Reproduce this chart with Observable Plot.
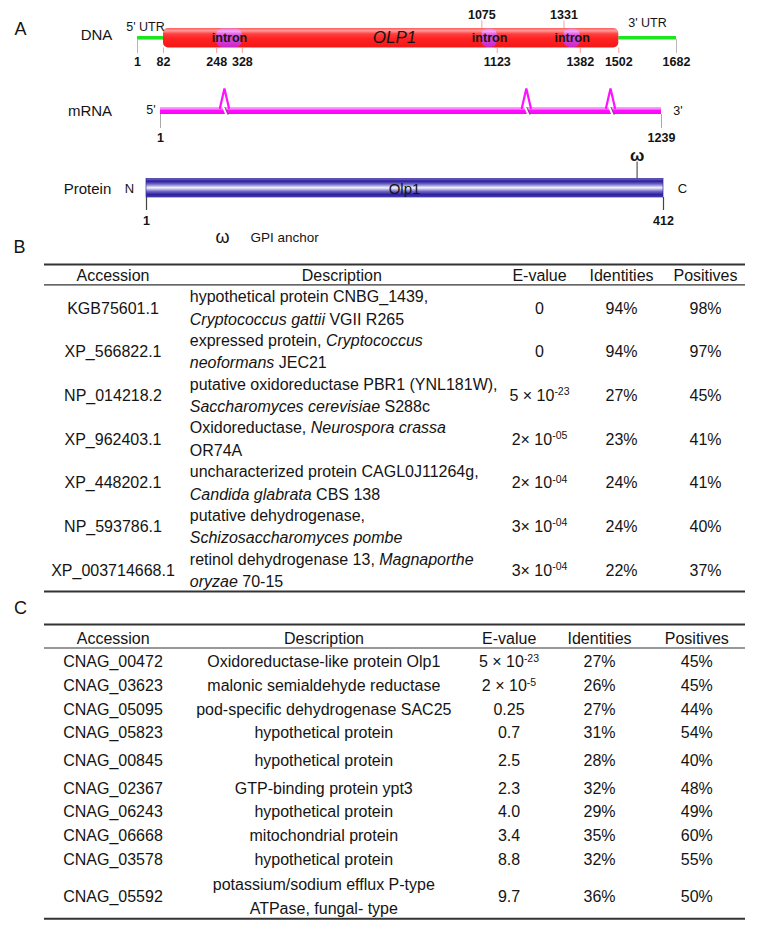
<!DOCTYPE html>
<html>
<head>
<meta charset="utf-8">
<script src="https://cdn.jsdelivr.net/npm/d3@7"></script>
<script src="https://cdn.jsdelivr.net/npm/@observablehq/plot@0.6"></script>
<style>
  html, body { margin: 0; padding: 0; background: #fff; overflow: hidden; }
  svg { display: block; }
</style>
</head>
<body>
<div id="chart"></div>
<script>
// ---------------- DATA ----------------
const panelLabels = ["A", "B", "C"];
const trackLabels = ["DNA", "mRNA", "Protein"];
const geneName = "OLP1";
const proteinName = "Olp1";

const dnaLength = 1682;
const utr5 = [1, 82];
const cdsSpan = [82, 1502];
const utr3 = [1502, 1682];
const introns = [[248, 328], [1075, 1123], [1331, 1382]];
const dnaTicksBelow = [1, 82, 248, 328, 1123, 1382, 1502, 1682];
const dnaTicksAbove = [1075, 1331];
const utrLabels = ["5' UTR", "3' UTR"];

const mrnaLength = 1239;
const mrnaJunctions = [159, 905, 1113];
const mrnaEnds = ["5'", "3'"];

const proteinLength = 412;
const gpiSite = 391;
const proteinEnds = ["N", "C"];
const gpiSymbol = "ω";
const gpiLegend = "GPI anchor";

const tableHeaders = ["Accession", "Description", "E-value", "Identities", "Positives"];

const bAccession = ["KGB75601.1", "XP_566822.1", "NP_014218.2", "XP_962403.1", "XP_448202.1", "NP_593786.1", "XP_003714668.1"];
const bDescLine1 = [
  "hypothetical protein CNBG_1439,",
  "expressed protein, *Cryptococcus*",
  "putative oxidoreductase PBR1 (YNL181W),",
  "Oxidoreductase, *Neurospora crassa*",
  "uncharacterized protein CAGL0J11264g,",
  "putative dehydrogenase,",
  "retinol dehydrogenase 13, *Magnaporthe*"
];
const bDescLine2 = [
  "*Cryptococcus gattii* VGII R265",
  "*neoformans* JEC21",
  "*Saccharomyces cerevisiae* S288c",
  "OR74A",
  "*Candida glabrata* CBS 138",
  "*Schizosaccharomyces pombe*",
  "*oryzae* 70-15"
];
const bEvalue = ["0", "0", "5 × 10^-23", "2× 10^-05", "2× 10^-04", "3× 10^-04", "3× 10^-04"];
const bIdentities = ["94%", "94%", "27%", "23%", "24%", "24%", "22%"];
const bPositives = ["98%", "97%", "45%", "41%", "41%", "40%", "37%"];

const cAccession = ["CNAG_00472", "CNAG_03623", "CNAG_05095", "CNAG_05823", "CNAG_00845", "CNAG_02367", "CNAG_06243", "CNAG_06668", "CNAG_03578", "CNAG_05592"];
const cDescription = [
  "Oxidoreductase-like protein Olp1",
  "malonic semialdehyde reductase",
  "pod-specific dehydrogenase SAC25",
  "hypothetical protein",
  "hypothetical protein",
  "GTP-binding protein ypt3",
  "hypothetical protein",
  "mitochondrial protein",
  "hypothetical protein",
  "potassium/sodium efflux P-type\nATPase, fungal- type"
];
const cEvalue = ["5 × 10^-23", "2 × 10^-5", "0.25", "0.7", "2.5", "2.3", "4.0", "3.4", "8.8", "9.7"];
const cIdentities = ["27%", "26%", "27%", "31%", "28%", "32%", "29%", "35%", "32%", "36%"];
const cPositives = ["45%", "45%", "44%", "54%", "40%", "48%", "49%", "60%", "55%", "50%"];

// ---------------- LAYOUT ----------------
const W = 764, H = 927;
const ink = "#141414";
const FONT = "'Liberation Sans', Arial, Helvetica, sans-serif";
const LAY = {
  panels: [[20, 29], [19, 246.5], [20, 608]],
  trackLabelX: [96, 89.5, 87], trackLabelY: [35, 111, 188.5],
  dna: {x0: 137, x1: 676, y: 37.3, top: 28, bot: 47.5, tickBot: 53, tickTop: 20.5, labBelow: 61.5, labAbove: 14.5,
        utrLabel: [[145, 26.7], [647, 22]], gene: [394, 37.5]},
  mrna: {x0: 160, x1: 661, top: 107, bot: 114, spikeTop: 88, spikeHalf: 4.5, tickBot: 128, lab: 137,
         ends: [[150.5, 109], [677.5, 110.5]]},
  prot: {x0: 146, x1: 663, top: 178.5, bot: 197, tickBot: 210, lab: 220, omegaY: 155, omegaLine: 161.5,
         ends: [[129, 188.5], [682, 188.5]], name: [404, 188.5], legend: [222, 237, 250]},
  tableX: [44, 745],
  B: {top: 264, head: 275, headRule: 284.3, row0: 296.7, step: 43.7, line: 22.4, bottom: 591,
      cols: [112.5, 189.3, 539, 621, 705], headCols: [112.5, 341.3, 539, 621, 705]},
  C: {top: 624, head: 638.5, headRule: 647.5, row0: 661.7, steps: [24, 23.6, 23.4, 28, 27.6, 23.4, 23.3, 24.3, 37], line: 24, bottom: 918.3,
      cols: [112.5, 323.3, 508.5, 599, 696.3], headCols: [112.7, 323.5, 508.7, 599, 696.3]}
};

const xd = d3.scaleLinear([1, dnaLength], [LAY.dna.x0, LAY.dna.x1]);
const xm = d3.scaleLinear([1, mrnaLength], [LAY.mrna.x0, LAY.mrna.x1]);
const xp = d3.scaleLinear([1, proteinLength], [LAY.prot.x0, LAY.prot.x1]);

// ---------------- MARK HELPERS ----------------
const marks = [];
const txt = (items, o = {}) => marks.push(Plot.text(items, {x: "x", y: "y", text: "t", fill: ink, fontSize: 12, ...o}));
const hline = (items, o = {}) => marks.push(Plot.ruleY(items, {y: "y", x1: "x1", x2: "x2", ...o}));
const vline = (items, o = {}) => marks.push(Plot.ruleX(items, {x: "x", y1: "y1", y2: "y2", ...o}));
const box = (items, o = {}) => marks.push(Plot.rect(items, {x1: "x1", x2: "x2", y1: "y1", y2: "y2", ...o}));

// ---------------- PANEL LABELS ----------------
txt(panelLabels.map((t, i) => ({t, x: LAY.panels[i][0], y: LAY.panels[i][1]})), {fontSize: 18});
txt(trackLabels.map((t, i) => ({t, x: LAY.trackLabelX[i], y: LAY.trackLabelY[i]})), {fontSize: 15});

// ---------------- DNA ----------------
const D = LAY.dna;
hline([utr5, utr3].map(([a, b]) => ({x1: xd(a), x2: xd(b), y: D.y})), {stroke: "#1ee61e", strokeWidth: 3.6});
vline([1, dnaLength].map(v => ({x: xd(v), y1: D.y + 1.6, y2: D.tickBot})), {stroke: "#b8b8b8", strokeWidth: 1});
box([{x1: xd(cdsSpan[0]), x2: xd(cdsSpan[1]), y1: D.top, y2: D.bot}], {fill: "url(#gRed)", rx: 5});
box(introns.map(([a, b]) => ({x1: xd(a), x2: xd(b), y1: D.top + 0.5, y2: D.bot - 0.5})), {fill: "url(#gMag)", rx: 6});
vline(dnaTicksBelow.filter(v => v !== 1 && v !== dnaLength).map(v => ({x: xd(v), y1: D.bot, y2: D.tickBot})), {stroke: "#ff9c9c", strokeWidth: 1});
vline(dnaTicksAbove.map(v => ({x: xd(v), y1: D.tickTop, y2: D.top})), {stroke: "#ff9c9c", strokeWidth: 1});
txt(dnaTicksBelow.map(v => ({t: String(v), x: xd(v), y: D.labBelow})), {fontWeight: "bold", fontSize: 12.5});
txt(dnaTicksAbove.map(v => ({t: String(v), x: xd(v), y: D.labAbove})), {fontWeight: "bold", fontSize: 12.5});
txt(introns.map(([a, b]) => ({t: "intron", x: xd((a + b) / 2), y: D.y + 0.2})), {fontWeight: "bold", fontSize: 12.5});
txt([{t: geneName, x: D.gene[0], y: D.gene[1]}], {fontStyle: "italic", fontSize: 17});
txt(utrLabels.map((t, i) => ({t, x: D.utrLabel[i][0], y: D.utrLabel[i][1]})), {fontSize: 12.5});

// ---------------- mRNA ----------------
const M = LAY.mrna;
box([{x1: xm(1), x2: xm(mrnaLength), y1: M.top, y2: M.bot}], {fill: "url(#gPink)"});
const spikePts = mrnaJunctions.flatMap((j, k) => [
  {x: xm(j) - M.spikeHalf, y: M.top + 0.5, k},
  {x: xm(j), y: M.spikeTop, k},
  {x: xm(j) + M.spikeHalf, y: M.top + 0.5, k}
]);
marks.push(Plot.line(spikePts, {x: "x", y: "y", z: "k", stroke: "#ff10ff", strokeWidth: 2.2, strokeLinejoin: "miter"}));
marks.push(Plot.link(mrnaJunctions, {x1: j => xm(j) - 1.2, y1: () => M.top - 0.5, x2: j => xm(j) + 2.2, y2: () => M.bot + 0.5, stroke: "#ffffff", strokeWidth: 2}));
marks.push(Plot.link(mrnaJunctions, {x1: j => xm(j) + 0.4, y1: () => M.top - 0.5, x2: j => xm(j) + 3.8, y2: () => M.bot + 0.5, stroke: "#555", strokeWidth: 0.8}));
vline([1, mrnaLength].map(v => ({x: xm(v), y1: M.bot, y2: M.tickBot})), {stroke: "#aaaaaa", strokeWidth: 1});
txt([1, mrnaLength].map(v => ({t: String(v), x: xm(v), y: M.lab})), {fontWeight: "bold", fontSize: 12.5});
txt(mrnaEnds.map((t, i) => ({t, x: M.ends[i][0], y: M.ends[i][1]})), {fontSize: 12.5});

// ---------------- Protein ----------------
const P = LAY.prot;
vline([{x: xp(gpiSite), y1: P.omegaLine, y2: P.top}], {stroke: "#555", strokeWidth: 1.2});
box([{x1: xp(1), x2: xp(proteinLength), y1: P.top, y2: P.bot}], {fill: "url(#gBlue)", stroke: "#3326a0", strokeWidth: 0.7});
txt([{t: proteinName, x: P.name[0], y: P.name[1]}], {fontSize: 15});
txt(proteinEnds.map((t, i) => ({t, x: P.ends[i][0], y: P.ends[i][1]})), {fontSize: 13});
txt([{t: gpiSymbol, x: xp(gpiSite), y: P.omegaY}], {fontSize: 17, fontWeight: "bold"});
vline([1, proteinLength].map(v => ({x: xp(v), y1: P.bot, y2: P.tickBot})), {stroke: "#444", strokeWidth: 1.2});
txt([1, proteinLength].map(v => ({t: String(v), x: xp(v), y: P.lab})), {fontWeight: "bold", fontSize: 12.5});
txt([{t: gpiSymbol, x: P.legend[0], y: P.legend[1]}], {fontSize: 18});
txt([{t: gpiLegend, x: P.legend[2], y: P.legend[1]}], {fontSize: 13.5, textAnchor: "start"});

// ---------------- Table B ----------------
const B = LAY.B;
const [tx0, tx1] = LAY.tableX;
hline([{y: B.top, x1: tx0, x2: tx1}, {y: B.bottom, x1: tx0, x2: tx1}], {stroke: "#333", strokeWidth: 2});
hline([{y: B.headRule, x1: tx0, x2: tx1}], {stroke: "#333", strokeWidth: 1.2});
txt(tableHeaders.map((t, i) => ({t, x: B.headCols[i], y: B.head})), {fontSize: 16});
const bRowY = bAccession.map((_, i) => B.row0 + B.step * i);
txt(bAccession.map((t, i) => ({t, x: B.cols[0], y: bRowY[i] + B.line / 2})), {fontSize: 16});
txt(bDescLine1.map((t, i) => ({t, x: B.cols[1], y: bRowY[i]})), {fontSize: 16, textAnchor: "start"});
txt(bDescLine2.map((t, i) => ({t, x: B.cols[1], y: bRowY[i] + B.line})), {fontSize: 16, textAnchor: "start"});
txt(bEvalue.map((t, i) => ({t, x: B.cols[2], y: bRowY[i] + B.line / 2})), {fontSize: 16});
txt(bIdentities.map((t, i) => ({t, x: B.cols[3], y: bRowY[i] + B.line / 2})), {fontSize: 16});
txt(bPositives.map((t, i) => ({t, x: B.cols[4], y: bRowY[i] + B.line / 2})), {fontSize: 16});

// ---------------- Table C ----------------
const C = LAY.C;
hline([{y: C.top, x1: tx0, x2: tx1}, {y: C.bottom, x1: tx0, x2: tx1}], {stroke: "#333", strokeWidth: 2});
hline([{y: C.headRule, x1: tx0, x2: tx1}], {stroke: "#333", strokeWidth: 1.2});
txt(tableHeaders.map((t, i) => ({t, x: C.headCols[i], y: C.head})), {fontSize: 16});
const cRowY = cAccession.map((_, i) => C.row0 + d3.sum(C.steps.slice(0, i)));
txt(cAccession.map((t, i) => ({t, x: C.cols[0], y: cRowY[i]})), {fontSize: 16});
txt(cDescription.flatMap((t, i) => {
  const lines = t.split("\n");
  return lines.map((s, k) => ({t: s, x: C.cols[1], y: cRowY[i] + (k - (lines.length - 1) / 2) * C.line}));
}), {fontSize: 16});
txt(cEvalue.map((t, i) => ({t, x: C.cols[2], y: cRowY[i]})), {fontSize: 16});
txt(cIdentities.map((t, i) => ({t, x: C.cols[3], y: cRowY[i]})), {fontSize: 16});
txt(cPositives.map((t, i) => ({t, x: C.cols[4], y: cRowY[i]})), {fontSize: 16});

// ---------------- PLOT ----------------
const chart = Plot.plot({
  width: W, height: H, margin: 0,
  x: {domain: [0, W], range: [0, W], axis: null},
  y: {domain: [0, H], range: [0, H], axis: null},
  style: {fontFamily: FONT, background: "#fff", color: ink, overflow: "visible"},
  marks
});

// gradients
const defs = `<defs>
<linearGradient id="gRed" x1="0" y1="0" x2="0" y2="1">
  <stop offset="0" stop-color="#ff5c5c"/><stop offset="0.14" stop-color="#ff9a9a"/>
  <stop offset="0.3" stop-color="#ff4040"/><stop offset="0.55" stop-color="#ff2222"/>
  <stop offset="1" stop-color="#f21818"/>
</linearGradient>
<linearGradient id="gMag" x1="0" y1="0" x2="0" y2="1">
  <stop offset="0" stop-color="#e57ae8"/><stop offset="0.15" stop-color="#f3a8f3"/>
  <stop offset="0.35" stop-color="#e050e0"/><stop offset="1" stop-color="#c828c8"/>
</linearGradient>
<linearGradient id="gPink" x1="0" y1="0" x2="0" y2="1">
  <stop offset="0" stop-color="#ffa0ff"/><stop offset="0.3" stop-color="#ff80ff"/>
  <stop offset="0.45" stop-color="#ff10ff"/><stop offset="1" stop-color="#ff00ff"/>
</linearGradient>
<linearGradient id="gBlue" x1="0" y1="0" x2="0" y2="1">
  <stop offset="0" stop-color="#7a70c8"/><stop offset="0.14" stop-color="#2a1b9b"/>
  <stop offset="0.3" stop-color="#6d65c4"/><stop offset="0.5" stop-color="#f6f6ff"/>
  <stop offset="0.7" stop-color="#6d65c4"/><stop offset="0.88" stop-color="#2a1b9b"/>
  <stop offset="1" stop-color="#5248b4"/>
</linearGradient>
</defs>`;
chart.insertAdjacentHTML("afterbegin", defs);

// rich text: *italic* segments and ^superscript tail
const NS = "http://www.w3.org/2000/svg";
chart.querySelectorAll("text").forEach(t => {
  if (t.children.length) return;
  const s = t.textContent;
  if (!/[*^]/.test(s)) return;
  const [main, sup] = s.split("^");
  t.textContent = "";
  main.split("*").forEach((seg, i) => {
    if (!seg) return;
    const ts = document.createElementNS(NS, "tspan");
    if (i % 2 === 1) ts.setAttribute("font-style", "italic");
    ts.textContent = seg;
    t.appendChild(ts);
  });
  if (sup !== undefined) {
    const ts = document.createElementNS(NS, "tspan");
    ts.setAttribute("font-size", "10.5");
    ts.setAttribute("dy", "-0.55em");
    ts.textContent = sup;
    t.appendChild(ts);
  }
});

document.getElementById("chart").appendChild(chart);
</script>
</body>
</html>
